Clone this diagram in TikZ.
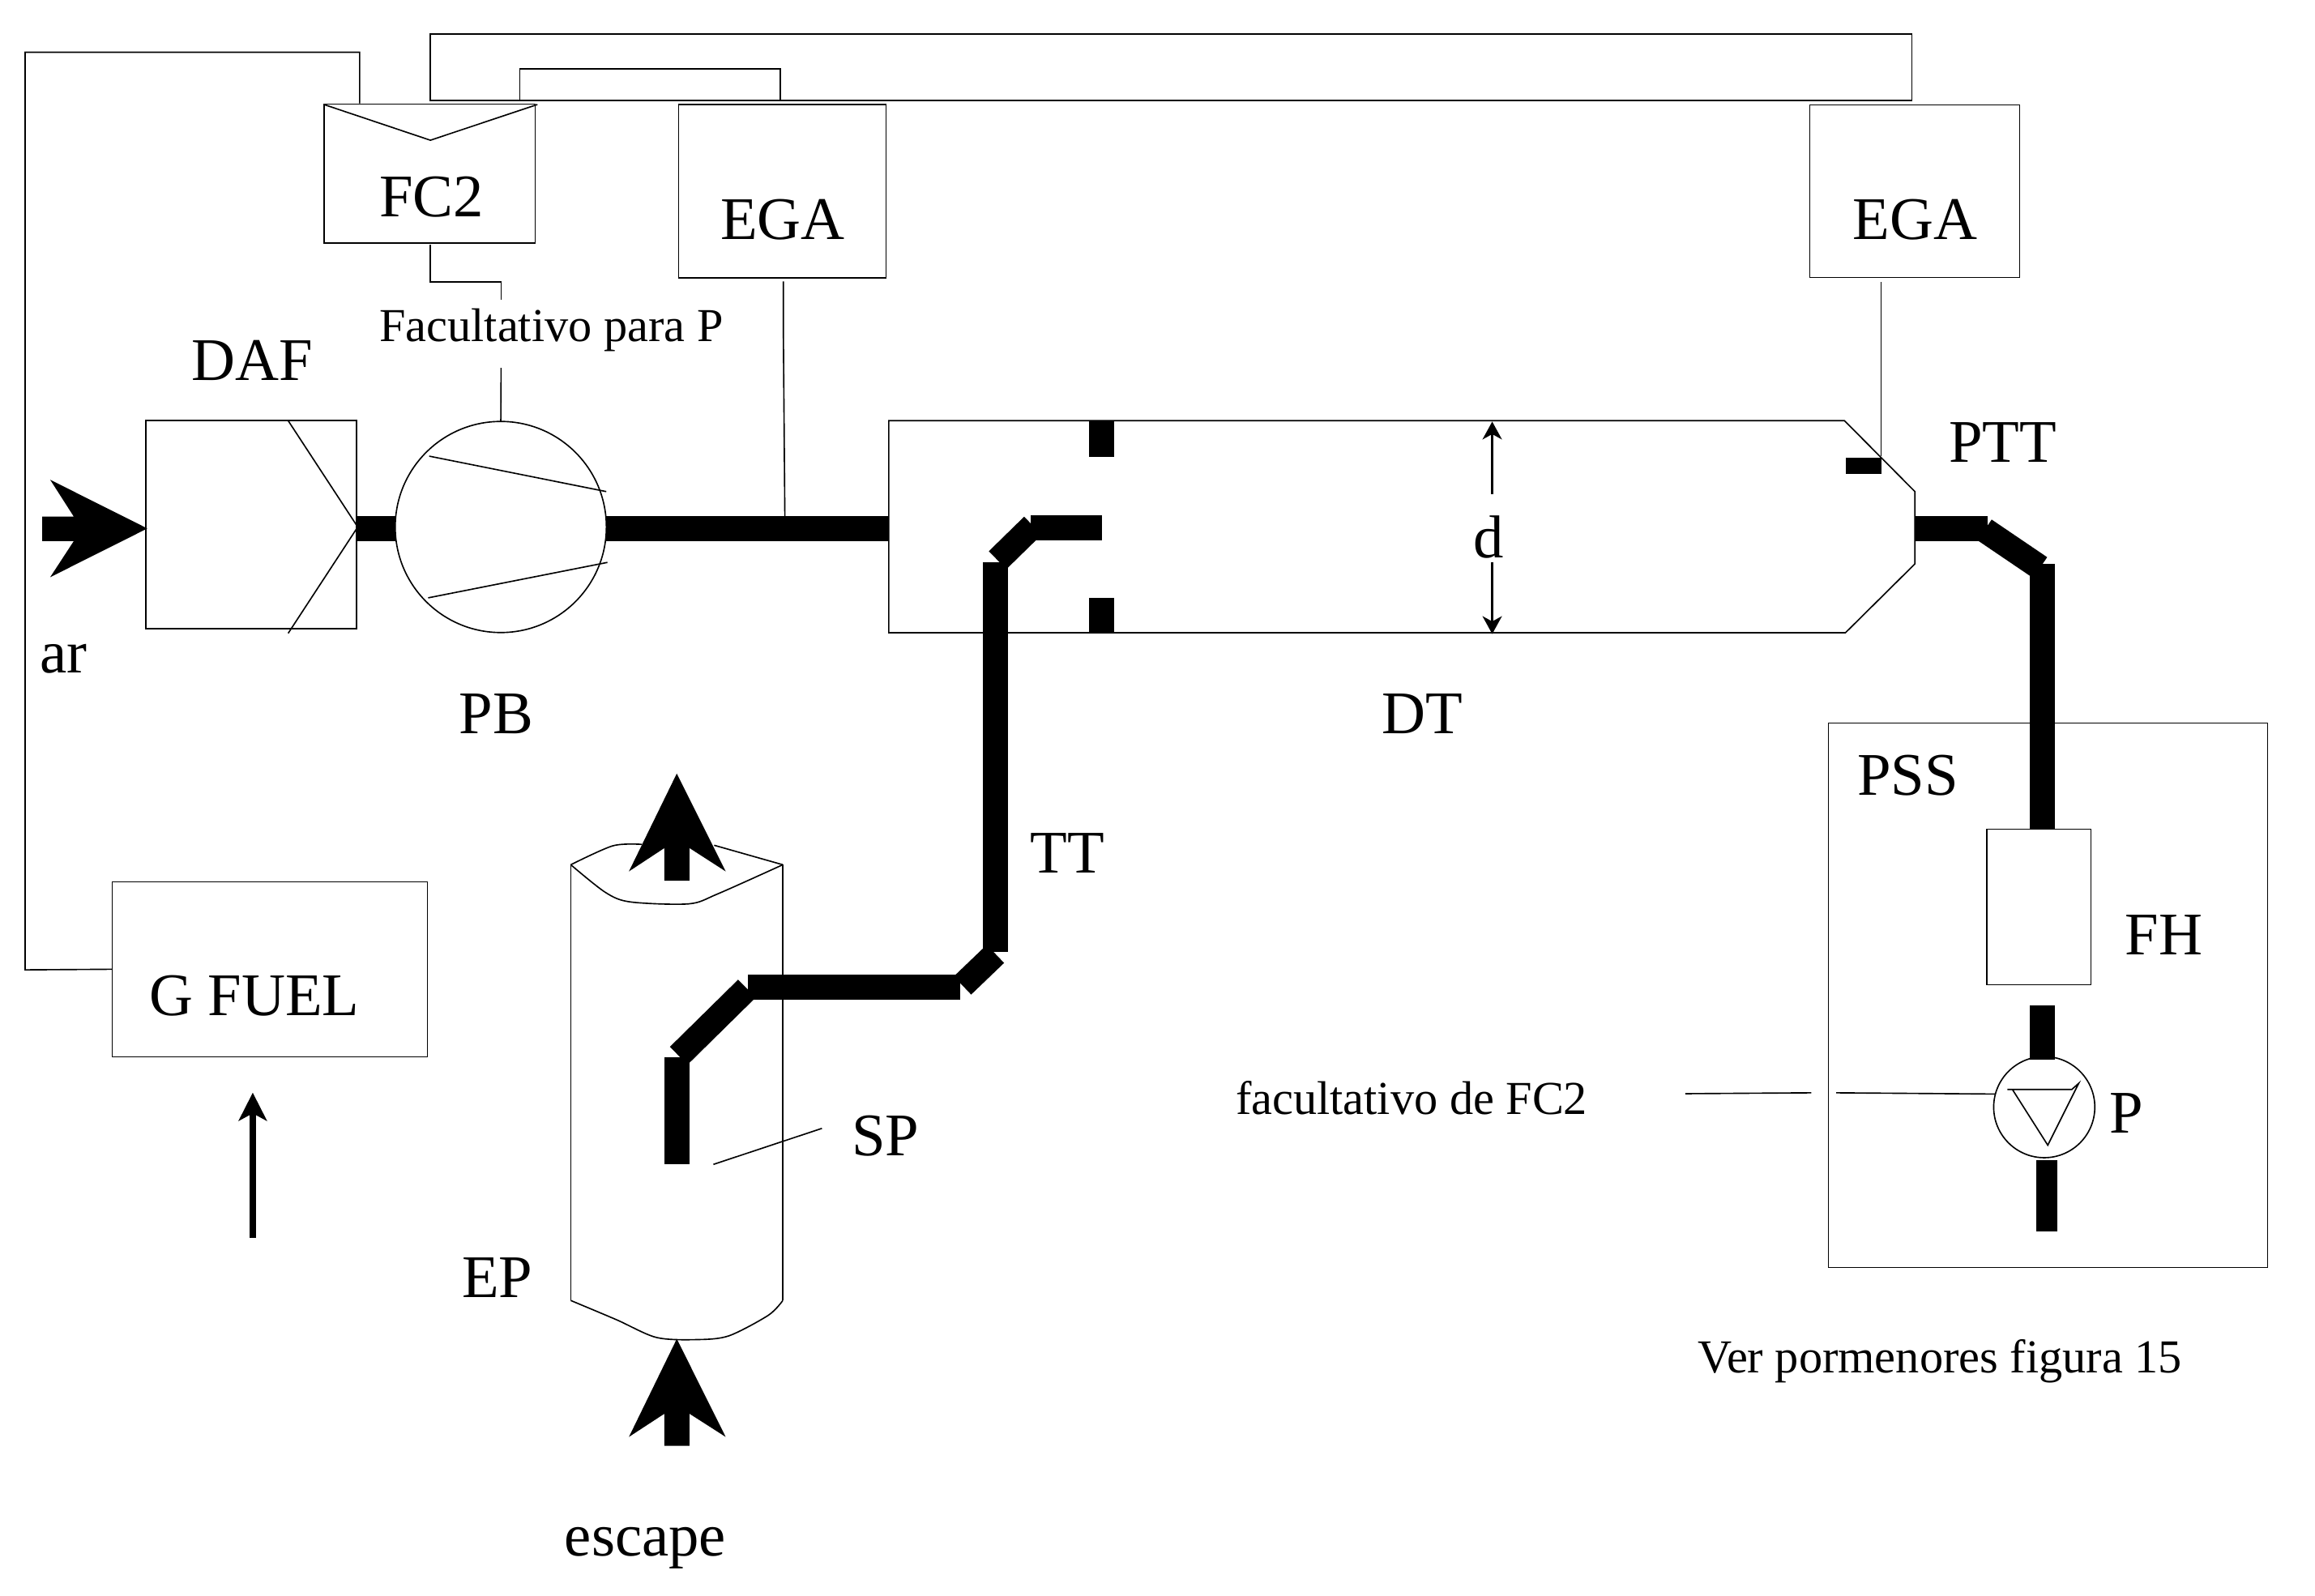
\documentclass[tikz,border=0pt]{standalone}
\usepackage{fontspec}
\setmainfont{Liberation Serif}
\usetikzlibrary{arrows.meta}
\tikzset{
  thinline/.style={draw=black,line width=0.9pt,line join=miter},
  boxnode/.style={draw=black,line width=0.9pt,rectangle,inner sep=0pt,outer sep=0pt},
  roundnode/.style={draw=black,line width=0.9pt,circle,inner sep=0pt,outer sep=0pt},
  pipe/.style={draw=black,line width=17pt,line cap=butt,line join=miter},
  fat/.style={fill=black,draw=none},
  big/.style={font=\fontsize{41}{48}\selectfont,anchor=base west,inner sep=0pt,outer sep=0pt},
  small/.style={font=\fontsize{32}{38}\selectfont,anchor=base west,inner sep=0pt,outer sep=0pt},
  dimarrow/.style={draw=black,line width=2pt,-{Stealth[length=12pt,width=13pt,inset=3.5pt]}},
  fuelarrow/.style={draw=black,line width=4.4pt,-{Stealth[length=19pt,width=19pt,inset=5pt]}}
}
\begin{document}
\begin{tikzpicture}[x=1pt,y=-1pt]
\path[use as bounding box,fill=white] (0,0) rectangle (1568,1081);

% boxes
\node[boxnode,minimum width=143pt,minimum height=94pt] (fc2) at (290.9,117.6) {};
\node[boxnode,minimum width=140.5pt,minimum height=117.5pt] (ega1) at (529.9,129.6) {};
\node[boxnode,minimum width=142.2pt,minimum height=117pt] (ega2) at (1296.9,129.5) {};
\node[boxnode,minimum width=142.5pt,minimum height=141pt] (daf) at (170.2,355.5) {};
\node[roundnode,minimum size=143pt] (pb) at (339.2,357) {};
\node[boxnode,minimum width=213.6pt,minimum height=118.6pt] (gfuel) at (182.8,656.6) {};
\node[boxnode,minimum width=297.4pt,minimum height=368.8pt] (pss) at (1387.1,674.3) {};
\node[boxnode,minimum width=70.6pt,minimum height=105.2pt] (fh) at (1381,614.4) {};
\node[roundnode,minimum size=68.5pt] (pump) at (1384.6,750) {};

% free ends
\coordinate (pipeY) at (0,358);
\coordinate (loopA) at (17,657);
\coordinate (loopB) at (17,35.4);
\coordinate (loopC) at (243.6,35.4);
\coordinate (loopD) at (243.6,70);
\coordinate (rTL) at (291.5,23);
\coordinate (rBR) at (1295,68);
\coordinate (iL) at (352,68);
\coordinate (iLt) at (352,46.7);
\coordinate (iRt) at (528.6,46.7);
\coordinate (iR) at (528.6,68);
\coordinate (fcA) at (291.5,166);
\coordinate (fcB) at (291.5,191);
\coordinate (fcC) at (339.4,191);
\coordinate (fcD) at (339.4,203);
\coordinate (fcE) at (339.4,249.3);
\coordinate (egaA) at (530.6,190.7);
\coordinate (egaB) at (531.6,350);
\coordinate (egbA) at (1274,191);
\coordinate (egbB) at (1274,309);
\coordinate (dtA) at (602,285);
\coordinate (dtB) at (1249.3,285);
\coordinate (dtC) at (1297,333);
\coordinate (dtD) at (1297,382);
\coordinate (dtE) at (1250,428.6);
\coordinate (dtF) at (602,428.6);

% thin lines
\draw[thinline] (loopD) -- (loopC) -- (loopB) -- (loopA) -- (gfuel.west);
\draw[thinline] (rTL) rectangle (rBR);
\draw[thinline] (iL) -- (iLt) -- (iRt) -- (iR);
\draw[thinline] (219.4,70.8) -- (291.5,95) -- (364,70.8);
\draw[thinline] (fcA) -- (fcB) -- (fcC) -- (fcD);
\draw[thinline] (fcE) -- (pb.north);
\draw[thinline] (egaA) -- (530.6,228) -- (egaB);
\draw[thinline] (egbA) -- (egbB);
\draw[thinline] (dtA) -- (dtB) -- (dtC) -- (dtD) -- (dtE) -- (dtF) -- cycle;
\draw[thinline] (195.2,285) -- (242.3,357) -- (195.2,429);
\draw[thinline] (290.7,309) -- (410.6,333);
\draw[thinline] (290,405) -- (411.4,381);
\draw[thinline] (1359.6,738) -- (1403.3,738) -- (1408,733.8) -- (1387,775.8) -- (1363,738);
\draw[thinline] (1141.5,740.9) -- (1226.8,740.3);
\draw[thinline] (1243.7,740.3) -- (pump.165);
\draw[thinline] (483.2,788.8) -- (556.7,764.4);

% cylinder EP
\coordinate (cylTL) at (386.6,585.8);
\coordinate (cylTR) at (530.2,585.8);
\coordinate (cylBL) at (386.6,881);
\coordinate (cylBR) at (530.2,881);
\draw[thinline] (cylTL) -- (cylBL);
\draw[thinline] (cylTR) -- (cylBR);
\draw[thinline] plot[smooth,tension=0.5] coordinates {(cylTL) (410,604.5) (427,611) (466.5,612.3) (486,605.6) (cylTR)};
\draw[thinline] plot[smooth,tension=0.5] coordinates {(cylTL) (415,573) (434.7,572)};
\draw[thinline] (483.7,572.6) -- (cylTR);
\draw[thinline] plot[smooth,tension=0.5] coordinates {(cylBL) (417.5,894) (444.5,906) (471.4,907.5) (493.5,905) (520.4,891) (cylBR)};

% pipes
\draw[pipe] (daf.east |- pipeY) -- (pb.west |- pipeY);
\draw[pipe] (pb.east |- pipeY) -- (dtA |- pipeY);
\draw[pipe] (dtC |- pipeY) -- (1346,358);
\draw[pipe] (1344.2,359) -- (1381.8,384.5);
\draw[pipe] (1383.2,382) -- (1383.2,561.5);
\draw[pipe] (1383.2,681) -- (1383.2,718);
\draw[pipe,line width=14.5pt] (1386.4,786) -- (1386.4,834);
\draw[pipe] (698.1,357.5) -- (746.3,357.5);
\draw[pipe] (699.6,356.1) -- (675.7,379.5);
\draw[pipe] (674.4,380.9) -- (674.4,644.6);
\draw[pipe] (674.2,646.2) -- (651.9,667.6);
\draw[pipe] (650.3,668.5) -- (506.7,668.5);
\draw[pipe] (505.9,669.7) -- (459.7,715.2);
\draw[pipe] (458.5,716) -- (458.5,788.8);

% black blocks
\fill[fat] (737.5,285) rectangle (754.5,309.3);
\fill[fat] (737.5,405) rectangle (754.5,428.6);
\fill[fat] (1250.3,310) rectangle (1274.3,321);

% fat arrows
\fill[fat] (28.6,350) -- (50,350) -- (34,325) -- (99.8,358) -- (34,391) -- (50,366.5) -- (28.6,366.5) -- cycle;
\fill[fat] (450,596.6) -- (450,574.5) -- (426,590.3) -- (458.4,524) -- (491.5,590.3) -- (467,574.5) -- (467,596.6) -- cycle;
\fill[fat] (450,979.4) -- (450,957.7) -- (426,973.4) -- (458.4,907) -- (491.5,973.4) -- (467,957.7) -- (467,979.4) -- cycle;

% arrows
\coordinate (dU1) at (1010.7,334.8);
\coordinate (dU2) at (1010.7,285.6);
\coordinate (dD1) at (1010.7,380.9);
\coordinate (dD2) at (1010.7,429.5);
\coordinate (fu1) at (171.2,838.5);
\coordinate (fu2) at (171.2,740.2);
\draw[dimarrow] (dU1) -- (dU2);
\draw[dimarrow] (dD1) -- (dD2);
\draw[fuelarrow] (fu1) -- (fu2);

% labels
\node[big] (tfc2) at (257,147) {FC2};
\node[big] (tega1) at (488,162) {EGA};
\node[big] (tega2) at (1255,162) {EGA};
\node[big] (tdaf) at (130,257.6) {DAF};
\node[small] (tfac) at (257,231.5) {Facultativo para P};
\node[big] (tar) at (27,456) {ar};
\node[big] (tpb) at (311,497) {PB};
\node[big] (tdt) at (936,497) {DT};
\node[big] (tptt) at (1320,313) {PTT};
\node[big] (td) at (998,378) {d};
\node[big] (ttt) at (698,591.5) {TT};
\node[big] (tpss) at (1258,538.5) {PSS};
\node[big] (tfh) at (1439.5,647) {FH};
\node[big] (tp) at (1429,767.4) {P};
\node[big] (tgf) at (101,688) {G FUEL};
\node[big] (tsp) at (577,783) {SP};
\node[big] (tep) at (313,879) {EP};
\node[big] (tesc) at (382.5,1054) {escape};
\node[small] (tfac2) at (837,755) {facultativo de FC2};
\node[small] (tver) at (1150,930) {Ver pormenores figura 15};
\end{tikzpicture}
\end{document}
